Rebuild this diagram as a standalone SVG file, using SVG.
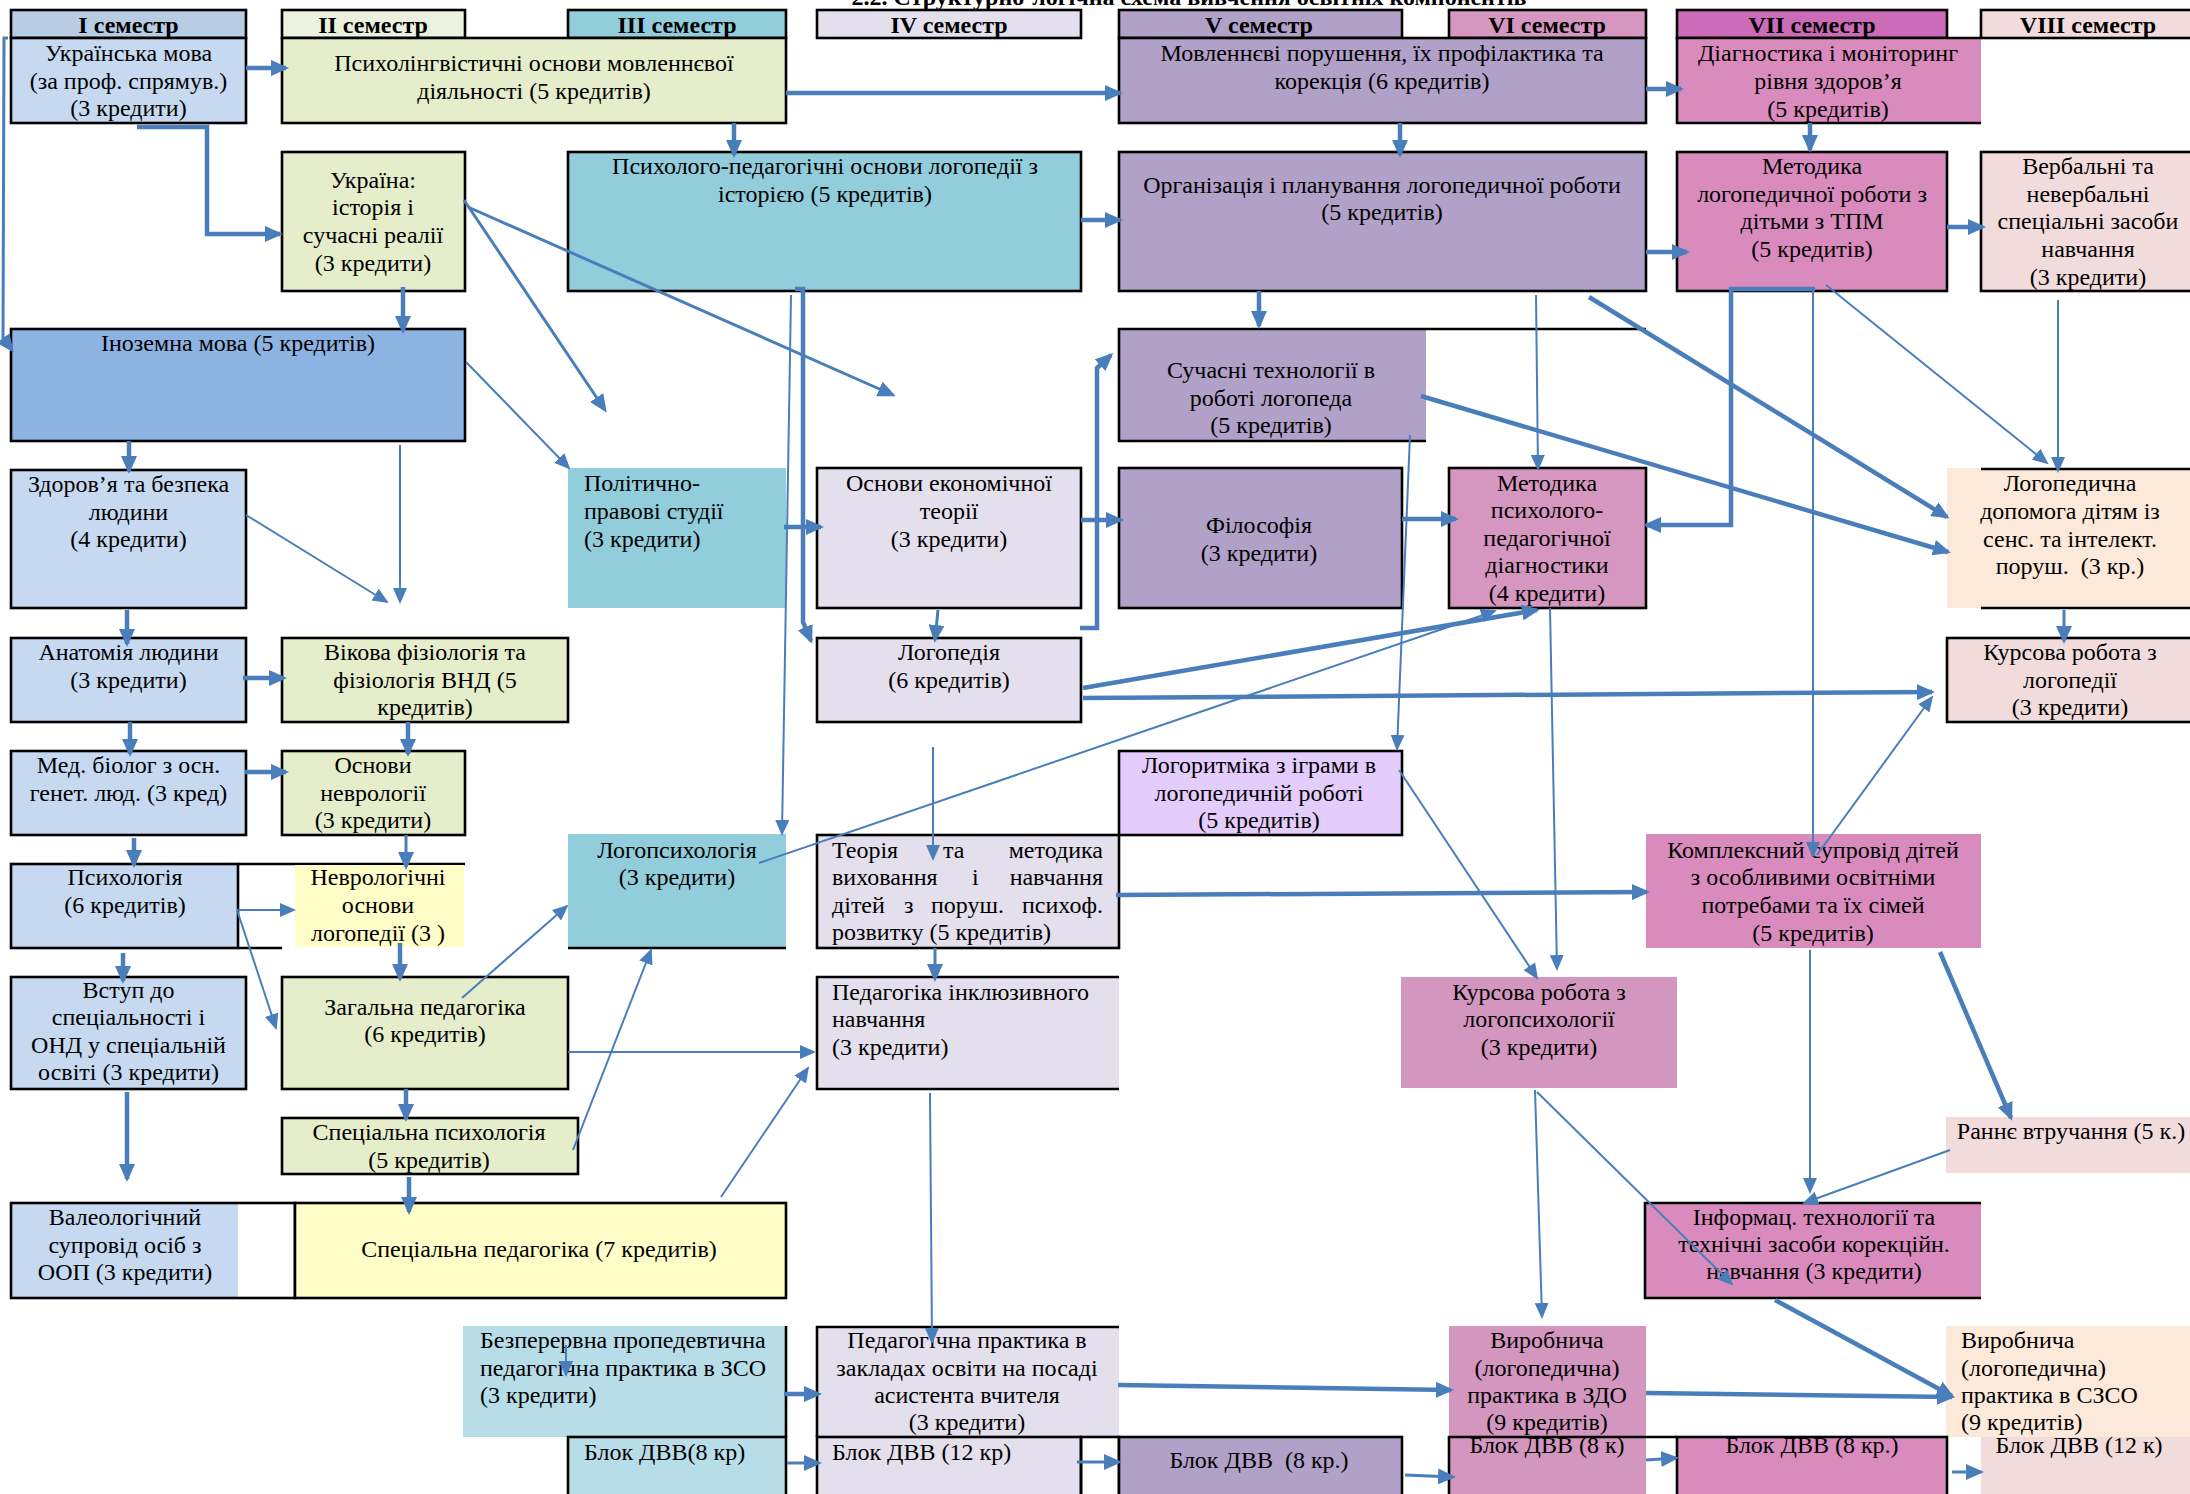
<svg xmlns="http://www.w3.org/2000/svg" width="2190" height="1494" viewBox="0 0 2190 1494">
<style>
text{font-family:"Liberation Serif","Times New Roman",serif;font-size:24px;fill:#000}
.m{text-anchor:middle}
.e{text-anchor:end}
.h{font-weight:bold;text-anchor:middle}
.bd{fill:none;stroke:#000;stroke-width:2.6}
.k{fill:none;stroke:#4a7ebb;stroke-width:4.5;marker-end:url(#ah)}
.md{fill:none;stroke:#4a7ebb;stroke-width:3;marker-end:url(#ah)}
.s{fill:none;stroke:#4a7ebb;stroke-width:2;marker-end:url(#as)}
</style>
<defs>
<marker id="ah" markerUnits="userSpaceOnUse" markerWidth="18" markerHeight="16" viewBox="0 0 18 16" refX="15" refY="8" orient="auto"><path d="M0,0 L18,8 L0,16 z" fill="#4a7ebb"/></marker>
<marker id="as" markerUnits="userSpaceOnUse" markerWidth="16" markerHeight="14" viewBox="0 0 16 14" refX="14" refY="7" orient="auto"><path d="M0,0 L16,7 L0,14 z" fill="#4a7ebb"/></marker>
</defs>
<rect width="2190" height="1494" fill="#fff"/>
<text class="h" x="1189" y="5">2.2. Структурно-логічна схема вивчення освітніх компонентів</text>

<g id="headers">
<rect x="11" y="10" width="235" height="28" fill="#b8cce4" class="bd" style="fill:#b8cce4"/><text class="h" x="128.5" y="33">I семестр</text>
<rect x="282" y="10" width="183" height="28" class="bd" style="fill:#ebf1de"/><text class="h" x="373" y="33">II семестр</text>
<rect x="568" y="10" width="218" height="28" class="bd" style="fill:#92cddc"/><text class="h" x="677" y="33">III семестр</text>
<rect x="817" y="10" width="264" height="28" class="bd" style="fill:#e4dfec"/><text class="h" x="949" y="33">IV семестр</text>
<rect x="1119" y="10" width="283" height="28" class="bd" style="fill:#b1a0c7"/><text class="h" x="1259" y="33">V семестр</text>
<rect x="1449" y="10" width="197" height="28" class="bd" style="fill:#d597c0"/><text class="h" x="1547" y="33">VI семестр</text>
<rect x="1677" y="10" width="270" height="28" class="bd" style="fill:#cc6bb7"/><text class="h" x="1812" y="33">VII семестр</text>
<rect x="1981" y="10" width="215" height="28" class="bd" style="fill:#f2dcdb"/><text class="h" x="2088" y="33">VIII семестр</text>
</g>

<g id="n_ukr"><rect x="11" y="38" width="235" height="85" class="bd" style="fill:#c6d9f1"/>
<text class="m"><tspan x="128.5" y="61">Українська мова</tspan><tspan x="128.5" y="89">(за проф. спрямув.)</tspan><tspan x="128.5" y="116">(3 кредити)</tspan></text></g>

<g id="n_psyling"><rect x="282" y="38" width="504" height="85" class="bd" style="fill:#e6edca"/>
<text class="m"><tspan x="534" y="71">Психолінгвістичні основи мовленнєвої</tspan><tspan x="534" y="99">діяльності (5 кредитів)</tspan></text></g>

<g id="n_movl"><rect x="1119" y="38" width="527" height="85" class="bd" style="fill:#b1a0c7"/>
<text class="m"><tspan x="1382" y="61">Мовленнєві порушення, їх профілактика та</tspan><tspan x="1382" y="89">корекція (6 кредитів)</tspan></text></g>

<g id="n_diag"><rect x="1677" y="38" width="304" height="85" fill="#da8bbd"/><path d="M1981,38 H1677 V123 H1981" class="bd"/>
<text class="m"><tspan x="1828" y="61">Діагностика і моніторинг</tspan><tspan x="1828" y="89">рівня здоров’я</tspan><tspan x="1828" y="117">(5 кредитів)</tspan></text></g>

<g id="n_ukraina"><rect x="282" y="152" width="183" height="139" class="bd" style="fill:#e6edca"/>
<text class="m"><tspan x="373" y="188">Україна:</tspan><tspan x="373" y="215">історія і</tspan><tspan x="373" y="243">сучасні реалії</tspan><tspan x="373" y="271">(3 кредити)</tspan></text></g>

<g id="n_ppol"><rect x="568" y="152" width="513" height="139" class="bd" style="fill:#92cddc"/>
<text class="m"><tspan x="825" y="174">Психолого-педагогічні основи логопедії з</tspan><tspan x="825" y="202">історією (5 кредитів)</tspan></text></g>

<g id="n_org"><rect x="1119" y="152" width="527" height="139" class="bd" style="fill:#b1a0c7"/>
<text class="m"><tspan x="1382" y="193">Організація і планування логопедичної роботи</tspan><tspan x="1382" y="220">(5 кредитів)</tspan></text></g>

<g id="n_tpm"><rect x="1677" y="152" width="270" height="139" class="bd" style="fill:#da8bbd"/>
<text class="m"><tspan x="1812" y="174">Методика</tspan><tspan x="1812" y="202">логопедичної роботи з</tspan><tspan x="1812" y="229">дітьми з ТПМ</tspan><tspan x="1812" y="257">(5 кредитів)</tspan></text></g>

<g id="n_verb"><rect x="1981" y="152" width="215" height="139" class="bd" style="fill:#f2dcdb"/>
<text class="m"><tspan x="2088" y="174">Вербальні та</tspan><tspan x="2088" y="202">невербальні</tspan><tspan x="2088" y="229">спеціальні засоби</tspan><tspan x="2088" y="257">навчання</tspan><tspan x="2088" y="285">(3 кредити)</tspan></text></g>

<g id="n_inoz"><rect x="11" y="329" width="454" height="112" class="bd" style="fill:#8db3e2"/>
<text class="m" x="238" y="351">Іноземна мова (5 кредитів)</text></g>

<g id="n_sucht"><rect x="1119" y="329" width="307" height="112" fill="#b1a0c7"/><path d="M1646,329 H1119 V441 H1426" class="bd"/>
<text class="m"><tspan x="1271" y="378">Сучасні технології в</tspan><tspan x="1271" y="406">роботі логопеда</tspan><tspan x="1271" y="433">(5 кредитів)</tspan></text></g>

<g id="n_zdor"><rect x="11" y="470" width="235" height="138" class="bd" style="fill:#c6d9f1"/>
<text class="m"><tspan x="128.5" y="492">Здоров’я та безпека</tspan><tspan x="128.5" y="520">людини</tspan><tspan x="128.5" y="547">(4 кредити)</tspan></text></g>

<g id="n_polit"><rect x="568" y="468" width="218" height="140" fill="#92cddc"/>
<text><tspan x="584" y="491">Політично-</tspan><tspan x="584" y="519">правові студії</tspan><tspan x="584" y="547">(3 кредити)</tspan></text></g>

<g id="n_econ"><rect x="817" y="468" width="264" height="140" class="bd" style="fill:#e4dfec"/>
<text class="m"><tspan x="949" y="491">Основи економічної</tspan><tspan x="949" y="519">теорії</tspan><tspan x="949" y="547">(3 кредити)</tspan></text></g>

<g id="n_filos"><rect x="1119" y="468" width="283" height="140" class="bd" style="fill:#b1a0c7"/>
<text class="m"><tspan x="1259" y="533">Філософія</tspan><tspan x="1259" y="561">(3 кредити)</tspan></text></g>

<g id="n_metdiag"><rect x="1449" y="468" width="197" height="140" class="bd" style="fill:#d597c0"/>
<text class="m"><tspan x="1547" y="491">Методика</tspan><tspan x="1547" y="518">психолого-</tspan><tspan x="1547" y="546">педагогічної</tspan><tspan x="1547" y="573">діагностики</tspan><tspan x="1547" y="601">(4 кредити)</tspan></text></g>

<g id="n_logdop"><rect x="1947" y="468" width="245" height="140" fill="#fde9d9"/><path d="M1981,469 H2192 M1981,608 H2192" class="bd"/>
<text class="m"><tspan x="2070" y="491">Логопедична</tspan><tspan x="2070" y="519">допомога дітям із</tspan><tspan x="2070" y="547">сенс. та інтелект.</tspan><tspan x="2070" y="574" style="white-space:pre">поруш.  (3 кр.)</tspan></text></g>

<g id="n_anat"><rect x="11" y="638" width="235" height="84" class="bd" style="fill:#c6d9f1"/>
<text class="m"><tspan x="128.5" y="660">Анатомія людини</tspan><tspan x="128.5" y="688">(3 кредити)</tspan></text></g>

<g id="n_vikova"><rect x="282" y="638" width="286" height="84" class="bd" style="fill:#e6edca"/>
<text class="m"><tspan x="425" y="660">Вікова фізіологія та</tspan><tspan x="425" y="688">фізіологія ВНД (5</tspan><tspan x="425" y="715">кредитів)</tspan></text></g>

<g id="n_logoped"><rect x="817" y="638" width="264" height="84" class="bd" style="fill:#e4dfec"/>
<text class="m"><tspan x="949" y="660">Логопедія</tspan><tspan x="949" y="688">(6 кредитів)</tspan></text></g>

<g id="n_kurslog"><rect x="1947" y="638" width="249" height="84" class="bd" style="fill:#f2dcdb"/>
<text class="m"><tspan x="2070" y="660">Курсова робота з</tspan><tspan x="2070" y="688">логопедії</tspan><tspan x="2070" y="715">(3 кредити)</tspan></text></g>

<g id="n_medbiol"><rect x="11" y="751" width="235" height="84" class="bd" style="fill:#c6d9f1"/>
<text class="m"><tspan x="128.5" y="773">Мед. біолог з осн.</tspan><tspan x="128.5" y="801">генет. люд. (3 кред)</tspan></text></g>

<g id="n_osnevr"><rect x="282" y="751" width="183" height="84" class="bd" style="fill:#e6edca"/>
<text class="m"><tspan x="373" y="773">Основи</tspan><tspan x="373" y="801">неврології</tspan><tspan x="373" y="828">(3 кредити)</tspan></text></g>

<g id="n_logoritm"><rect x="1119" y="751" width="283" height="84" class="bd" style="fill:#e4ccfc"/>
<text class="m"><tspan x="1259" y="773">Логоритміка з іграми в</tspan><tspan x="1259" y="801">логопедичній роботі</tspan><tspan x="1259" y="828">(5 кредитів)</tspan></text></g>

<g id="n_psyh"><rect x="11" y="864" width="227" height="84" class="bd" style="fill:#c6d9f1"/><path d="M238,864 H465 M238,948 H282" class="bd"/>
<text class="m"><tspan x="125" y="885">Психологія</tspan><tspan x="125" y="913">(6 кредитів)</tspan></text></g>

<g id="n_nevrlog"><rect x="295" y="865" width="169" height="82" fill="#fffdc8"/>
<text class="m"><tspan x="378" y="885">Неврологічні</tspan><tspan x="378" y="913">основи</tspan><tspan x="378" y="941">логопедії (3 )</tspan></text></g>

<g id="n_logpsy"><rect x="568" y="834" width="218" height="114" fill="#92cddc"/><path d="M568,948 H786" class="bd"/>
<text class="m"><tspan x="677" y="858">Логопсихологія</tspan><tspan x="677" y="885">(3 кредити)</tspan></text></g>

<g id="n_teor"><rect x="817" y="835" width="302" height="113" class="bd" style="fill:#e4dfec"/>
<text x="832" y="858">Теорія</text><text x="943" y="858">та</text><text class="e" x="1103" y="858">методика</text>
<text x="832" y="885">виховання</text><text x="972" y="885">і</text><text class="e" x="1103" y="885">навчання</text>
<text x="832" y="913">дітей</text><text x="904" y="913">з</text><text x="931" y="913">поруш.</text><text class="e" x="1103" y="913">психоф.</text>
<text x="832" y="940">розвитку (5 кредитів)</text></g>

<g id="n_kompl"><rect x="1646" y="834" width="335" height="114" fill="#da8bbd"/>
<text class="m"><tspan x="1813" y="858">Комплексний супровід дітей</tspan><tspan x="1813" y="885">з особливими освітніми</tspan><tspan x="1813" y="913">потребами та їх сімей</tspan><tspan x="1813" y="941">(5 кредитів)</tspan></text></g>

<g id="n_vstup"><rect x="11" y="977" width="235" height="112" class="bd" style="fill:#c6d9f1"/>
<text class="m"><tspan x="128.5" y="998">Вступ до</tspan><tspan x="128.5" y="1025">спеціальності і</tspan><tspan x="128.5" y="1053">ОНД у спеціальній</tspan><tspan x="128.5" y="1080">освіті (3 кредити)</tspan></text></g>

<g id="n_zagped"><rect x="282" y="977" width="286" height="112" class="bd" style="fill:#e6edca"/>
<text class="m"><tspan x="425" y="1015">Загальна педагогіка</tspan><tspan x="425" y="1042">(6 кредитів)</tspan></text></g>

<g id="n_pedincl"><rect x="817" y="977" width="302" height="112" fill="#e4dfec"/><path d="M1119,977 H817 V1089 H1119" class="bd"/>
<text><tspan x="832" y="1000">Педагогіка інклюзивного</tspan><tspan x="832" y="1027">навчання</tspan><tspan x="832" y="1055">(3 кредити)</tspan></text></g>

<g id="n_kurspsy"><rect x="1401" y="977" width="276" height="111" fill="#d396bf"/>
<text class="m"><tspan x="1539" y="1000">Курсова робота з</tspan><tspan x="1539" y="1027">логопсихології</tspan><tspan x="1539" y="1055">(3 кредити)</tspan></text></g>

<g id="n_rannie"><rect x="1946" y="1117" width="246" height="56" fill="#f2dcdb"/>
<text class="m" x="2071" y="1139">Раннє втручання (5 к.)</text></g>

<g id="n_specpsy"><rect x="282" y="1118" width="296" height="56" class="bd" style="fill:#e6edca"/>
<text class="m"><tspan x="429" y="1140">Спеціальна психологія</tspan><tspan x="429" y="1168">(5 кредитів)</tspan></text></g>

<g id="n_inform"><rect x="1645" y="1203" width="336" height="95" fill="#da8bbd"/><path d="M1981,1203 H1645 V1298 H1981" class="bd"/>
<text class="m"><tspan x="1814" y="1225">Інформац. технології та</tspan><tspan x="1814" y="1252">технічні засоби корекційн.</tspan><tspan x="1814" y="1279">навчання (3 кредити)</tspan></text></g>

<g id="n_valeo"><rect x="11" y="1203" width="227" height="95" fill="#c6d9f1"/><rect x="11" y="1203" width="284" height="95" class="bd"/>
<text class="m"><tspan x="125" y="1225">Валеологічний</tspan><tspan x="125" y="1253">супровід осіб з</tspan><tspan x="125" y="1280">ООП (3 кредити)</tspan></text></g>

<g id="n_specped"><rect x="295" y="1203" width="491" height="95" class="bd" style="fill:#fffdc8"/>
<text class="m" x="539" y="1257">Спеціальна педагогіка (7 кредитів)</text></g>

<g id="n_bezp"><rect x="463" y="1326" width="323" height="111" fill="#b7dde8"/><path d="M786,1326 V1437" class="bd"/>
<text><tspan x="480" y="1348">Безперервна пропедевтична</tspan><tspan x="480" y="1376">педагогічна практика в ЗСО</tspan><tspan x="480" y="1403">(3 кредити)</tspan></text></g>

<g id="n_pedprak"><rect x="817" y="1327" width="302" height="110" fill="#e4dfec"/><path d="M1119,1327 H817 V1437" class="bd"/>
<text class="m"><tspan x="967" y="1348">Педагогічна практика в</tspan><tspan x="967" y="1376">закладах освіти на посаді</tspan><tspan x="967" y="1403">асистента вчителя</tspan><tspan x="967" y="1430">(3 кредити)</tspan></text></g>

<g id="n_vyrzdo"><rect x="1449" y="1326" width="197" height="111" fill="#d396bf"/>
<text class="m"><tspan x="1547" y="1348">Виробнича</tspan><tspan x="1547" y="1376">(логопедична)</tspan><tspan x="1547" y="1403">практика в ЗДО</tspan><tspan x="1547" y="1430">(9 кредитів)</tspan></text></g>

<g id="n_vyrszso"><rect x="1946" y="1326" width="246" height="111" fill="#fde9d9"/>
<text><tspan x="1961" y="1348">Виробнича</tspan><tspan x="1961" y="1376">(логопедична)</tspan><tspan x="1961" y="1403">практика в СЗСО</tspan><tspan x="1961" y="1430">(9 кредитів)</tspan></text></g>

<g id="n_dvv1"><rect x="568" y="1437" width="218" height="60" class="bd" style="fill:#b7dde8"/>
<text x="584" y="1460">Блок ДВВ(8 кр)</text></g>
<g id="n_dvv2"><rect x="817" y="1437" width="264" height="60" class="bd" style="fill:#e4dfec"/><rect x="1081" y="1437" width="38" height="60" class="bd"/>
<text x="832" y="1460">Блок ДВВ (12 кр)</text></g>
<g id="n_dvv3"><rect x="1119" y="1437" width="283" height="60" class="bd" style="fill:#b1a0c7"/>
<text class="m" x="1259" y="1468" style="white-space:pre">Блок ДВВ  (8 кр.)</text></g>
<g id="n_dvv4"><rect x="1449" y="1437" width="197" height="60" fill="#d396bf"/><path d="M1449,1497 V1437 H1677" class="bd"/>
<text class="m" x="1547" y="1453">Блок ДВВ (8 к)</text></g>
<g id="n_dvv5"><rect x="1677" y="1437" width="270" height="60" class="bd" style="fill:#da8bbd"/>
<text class="m" x="1812" y="1453">Блок ДВВ (8 кр.)</text></g>
<g id="n_dvv6"><rect x="1981" y="1437" width="211" height="60" fill="#f2dcdb"/>
<text class="m" x="2079" y="1453">Блок ДВВ (12 к)</text></g>

<g id="connectors">
<path class="md" d="M8,38 L4,38 L3,338 L12,350"/>
<path class="k" d="M246,68 L286,68"/>
<path class="k" d="M137,127 H207 V234 H280"/>
<path class="k" d="M403,287 V331"/>
<path class="md" d="M464,200 L605,410"/>
<path class="md" d="M468,207 L893,395"/>
<path class="s" d="M466,362 L569,468"/>
<path class="k" d="M129,441 V471"/>
<path class="s" d="M400,445 V602"/>
<path class="s" d="M246,515 L387,602"/>
<path class="k" d="M127,610 V644"/>
<path class="k" d="M243,678 H284"/>
<path class="k" d="M130,722 V754"/>
<path class="k" d="M408,722 V754"/>
<path class="k" d="M245,772 H286"/>
<path class="k" d="M134,838 V865"/>
<path class="md" d="M406,835 V867"/>
<path class="s" d="M237,910 H294"/>
<path class="s" d="M237,910 L276,1028"/>
<path class="k" d="M400,943 V979"/>
<path class="k" d="M123,953 V981"/>
<path class="s" d="M462,998 L567,906"/>
<path class="k" d="M127,1092 V1179"/>
<path class="k" d="M406,1089 V1119"/>
<path class="k" d="M409,1177 V1212"/>
<path class="s" d="M568,1052 H814"/>
<path class="s" d="M573,1150 L651,950"/>
<path class="s" d="M721,1197 L808,1068"/>
<path class="s" d="M930,1093 L932,1342"/>
<path class="k" d="M784,1394 H819"/>
<path class="s" d="M566,1345 V1375"/>
<path class="md" d="M787,1463 H819"/>
<path class="md" d="M1077,1462 H1119"/>
<path class="k" d="M786,93 H1120"/>
<path class="k" d="M734,123 V155"/>
<path class="k" d="M1081,220 H1120"/>
<path class="s" d="M791,295 L782,834"/>
<path class="k" d="M795,289 H803 V622 L811,641"/>
<path class="k" d="M784,527 H821"/>
<path class="md" d="M938,610 L935,640"/>
<path class="k" d="M1081,520 H1121"/>
<path class="k" d="M1080,628 H1097 V368 L1111,355"/>
<path class="k" d="M1400,123 V155"/>
<path class="k" d="M1259,291 V326"/>
<path class="s" d="M1536,295 L1538,469"/>
<path class="k" d="M1589,297 L1947,517"/>
<path class="k" d="M1421,396 L1948,552"/>
<path class="s" d="M1410,435 L1397,749"/>
<path class="k" d="M1646,89 H1681"/>
<path class="k" d="M1810,123 V150"/>
<path class="k" d="M1646,252 H1687"/>
<path class="k" d="M1947,227 H1983"/>
<path class="k" d="M1815,289 H1731 V525 H1646"/>
<path class="s" d="M1813,289 V856"/>
<path class="s" d="M1826,285 L2047,463"/>
<path class="s" d="M2058,300 V471"/>
<path class="k" d="M1402,519 H1456"/>
<path class="k" d="M1083,688 L1537,610"/>
<path class="k" d="M1083,698 L1932,692"/>
<path class="s" d="M759,863 L1495,611"/>
<path class="s" d="M1550,608 L1557,969"/>
<path class="s" d="M1399,770 L1537,978"/>
<path class="k" d="M1116,895 L1647,892"/>
<path class="s" d="M933,747 V859"/>
<path class="md" d="M935,948 V979"/>
<path class="s" d="M1817,855 L1932,697"/>
<path class="k" d="M1940,952 L2011,1118"/>
<path class="s" d="M1810,950 V1192"/>
<path class="s" d="M1950,1150 L1804,1203"/>
<path class="md" d="M2064,610 V641"/>
<path class="s" d="M1535,1090 L1542,1317"/>
<path class="s" d="M1537,1092 L1732,1284"/>
<path class="k" d="M1118,1385 L1451,1390"/>
<path class="k" d="M1646,1393 L1952,1397"/>
<path class="k" d="M1775,1300 L1952,1396"/>
<path class="md" d="M1405,1475 L1453,1477"/>
<path class="md" d="M1646,1460 L1676,1458"/>
<path class="md" d="M1952,1472 H1981"/>
</g>
</svg>
